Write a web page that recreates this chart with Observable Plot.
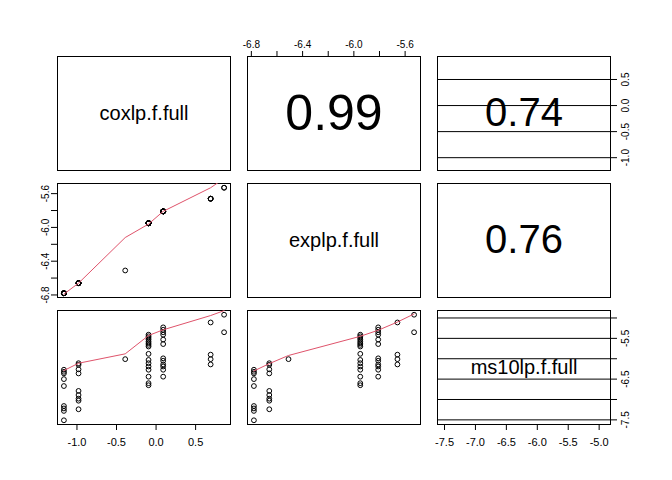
<!DOCTYPE html>
<html><head><meta charset="utf-8">
<script src="https://cdn.jsdelivr.net/npm/d3@7"></script>
<script src="https://cdn.jsdelivr.net/npm/@observablehq/plot@0.6"></script>
<style>
body{margin:0;background:#fff;font-family:"Liberation Sans",Arial,sans-serif}
#chart{position:relative;width:672px;height:480px}
#chart svg{position:absolute;overflow:visible}
</style></head>
<body><div id="chart"></div>
<script>
// one cox / exp value per group, ms10 values
const coxGroups = [-1.165, -0.98, -0.39, -0.095, 0.09, 0.69, 0.86]
const expGroups = [-6.78, -6.66, -6.51, -5.95, -5.81, -5.66, -5.53]
const ms10ByGroup = [
  [-6.27, -6.32, -6.36, -6.50, -6.67, -7.16, -7.22, -7.28, -7.51],
  [-6.11, -6.15, -6.26, -6.36, -6.79, -6.89, -6.98, -7.03, -7.24],
  [-6.01],
  [-5.41, -5.45, -5.49, -5.53, -5.58, -5.62, -5.66, -5.70, -5.88, -6.03, -6.11, -6.19, -6.27, -6.44, -6.60, -6.65],
  [-5.23, -5.29, -5.35, -5.41, -5.53, -5.64, -5.99, -6.05, -6.14, -6.19, -6.27, -6.44],
  [-5.11, -5.90, -6.01, -6.14],
  [-4.92, -5.35]
]
// smoothed (lowess) curves
const smoothExpOnCox = [-6.79, -6.66, -6.12, -5.96, -5.81, -5.53, -5.42]
const smoothMsOnCox = [-6.29, -6.11, -5.88, -5.43, -5.29, -4.94, -4.82]
const smoothMsOnExp = [-6.30, -6.12, -5.92, -5.45, -5.30, -5.10, -4.90]
const varNames = ["coxlp.f.full", "explp.f.full", "ms10lp.f.full"]
const corrLabels = {"0,1": "0.99", "0,2": "0.74", "1,2": "0.76"}

const rows = []
ms10ByGroup.forEach((vals, g) => vals.forEach(m => rows.push({cox: coxGroups[g], exp: expGroups[g], ms10: m})))
const smooth = {
  "1,0": coxGroups.map((c, i) => ({x: c, y: smoothExpOnCox[i]})),
  "2,0": coxGroups.map((c, i) => ({x: c, y: smoothMsOnCox[i]})),
  "2,1": expGroups.map((e, i) => ({x: e, y: smoothMsOnExp[i]}))
}
const keys = ["cox", "exp", "ms10"]
const pad = ext => { const d = (ext[1] - ext[0]) * 0.04; return [ext[0] - d, ext[1] + d] }
const domains = keys.map(k => pad(d3.extent(rows, r => r[k])))

const axisTicks = [
  {all: [-1, -0.5, 0, 0.5], lab: [-1, -0.5, 0, 0.5]},
  {all: d3.range(-6.8, -5.5, 0.2), lab: [-6.8, -6.4, -6.0, -5.6]},
  {all: [-7.5, -7, -6.5, -6, -5.5, -5], lab: [-7.5, -6.5, -5.5]}
]
const fmtFor = (i, labAll) => d => {
  const lab = labAll ? axisTicks[i].all : axisTicks[i].lab
  return lab.some(v => Math.abs(v - d) < 1e-6) ? d.toFixed(1) : ""
}

const colLeft = [57, 247, 437], rowTop = [56, 183, 310], W = 173, H = 114, M = 40
const chart = document.getElementById("chart")

for (let r = 0; r < 3; r++) for (let c = 0; c < 3; c++) {
  const marks = [Plot.frame({stroke: "black"})]
  const mt = (r === 0 && c === 1) ? M : 0
  const mb = (r === 2 && c !== 1) ? M : 0
  const ml = (c === 0 && r === 1) ? M : 0
  const mr = (c === 2 && r !== 1) ? M : 0
  if (r === c) {
    marks.push(Plot.text([varNames[r]], {text: d => d, frameAnchor: "middle", fontSize: 20}))
  } else if (r < c) {
    const t = corrLabels[r + "," + c]
    marks.push(Plot.text([t], {text: d => d, frameAnchor: "middle", fontSize: t === "0.99" ? 50 : 40}))
  } else {
    marks.push(Plot.dot(rows, {x: keys[c], y: keys[r], r: 2.4, stroke: "black", strokeWidth: 1}))
    marks.push(Plot.line(smooth[r + "," + c], {x: "x", y: "y", stroke: "#DF536B", strokeWidth: 1, clip: true}))
  }
  if (mt) marks.push(Plot.axisX({anchor: "top", ticks: axisTicks[c].all, tickFormat: fmtFor(c), tickSize: 6, fontSize: 10}))
  if (mb) marks.push(Plot.axisX({anchor: "bottom", ticks: axisTicks[c].all, tickFormat: fmtFor(c, c === 0 || c === 2), tickSize: 6, tickPadding: 8, fontSize: 11}))
  if (ml) marks.push(Plot.axisY({anchor: "left", ticks: axisTicks[r].all, tickFormat: fmtFor(r), tickSize: 6, tickRotate: -90, fontSize: 10}))
  if (mr) {
    const labs = r === 0 ? axisTicks[r].all : axisTicks[r].lab
    marks.push(Plot.tickY(axisTicks[r].all, {y: d => d, frameAnchor: "right", dx: 0}))
    marks.push(Plot.axisY({anchor: "right", ticks: axisTicks[r].all, tickFormat: () => "", tickSize: 6}))
    marks.push(Plot.text(labs, {y: d => d, text: d => d.toFixed(1), frameAnchor: "right", dx: 15,
      rotate: -90, textAnchor: "middle", fontSize: 10}))
  }
  const p = Plot.plot({
    width: W + ml + mr, height: H + mt + mb,
    marginTop: mt, marginBottom: mb, marginLeft: ml, marginRight: mr,
    style: {fontFamily: "Liberation Sans, Arial, sans-serif", background: "transparent", color: "black"},
    x: {domain: domains[c], axis: null},
    y: {domain: domains[r], axis: null},
    marks: marks.filter((m, i) => !(mr && m && m.constructor && m.constructor.name === "TickY"))
  })
  p.style.left = (colLeft[c] - ml) + "px"
  p.style.top = (rowTop[r] - mt) + "px"
  chart.append(p)
}
</script></body></html>
